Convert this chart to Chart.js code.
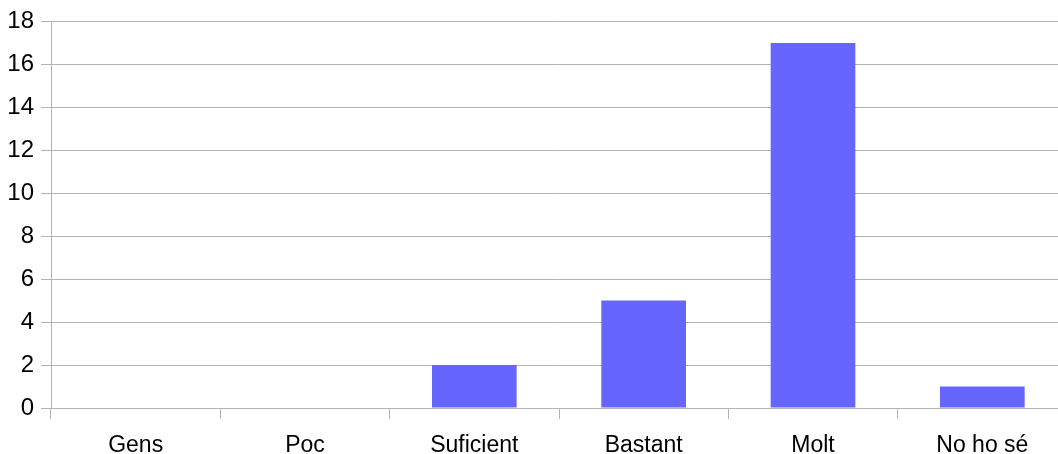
<!DOCTYPE html>
<html>
<head>
<meta charset="utf-8">
<script src="https://cdn.jsdelivr.net/npm/chart.js@4/dist/chart.umd.min.js"></script>
<style>
  html, body { margin: 0; padding: 0; background: #ffffff; overflow: hidden; }
  #wrap { width: 1068px; height: 454px; position: relative; }
</style>
</head>
<body>
<div id="wrap"><canvas id="c"></canvas></div>
<script>
// Survey answers and number of responses per answer
const categories = ['Gens', 'Poc', 'Suficient', 'Bastant', 'Molt', 'No ho sé'];
const responses = [0, 0, 2, 5, 17, 1];
const yMin = 0;
const yMax = 18;
const yStep = 2;

const gridColor = '#b3b3b3';
const barColor = '#6666ff';
const xFont = { family: '"Liberation Sans", Arial, sans-serif', size: 23 };
const yFont = { family: '"Liberation Sans", Arial, sans-serif', size: 24 };

new Chart(document.getElementById('c'), {
  type: 'bar',
  data: {
    labels: categories,
    datasets: [{
      data: responses,
      backgroundColor: barColor,
      borderWidth: 0,
      categoryPercentage: 0.5,
      barPercentage: 1.0
    }]
  },
  options: {
    responsive: true,
    maintainAspectRatio: false,
    animation: false,
    layout: { padding: { top: 20, right: 1, left: 0, bottom: 0 } },
    plugins: {
      legend: { display: false },
      tooltip: { enabled: false }
    },
    scales: {
      x: {
        offset: true,
        grid: {
          offset: true,
          drawOnChartArea: false,
          drawTicks: true,
          tickLength: 11,
          color: gridColor,
          lineWidth: 1
        },
        border: { display: false },
        ticks: { color: '#000000', font: xFont, padding: 13, maxRotation: 0 },
        afterFit(scale) { scale.height = 46; }
      },
      y: {
        min: yMin,
        max: yMax,
        ticks: { stepSize: yStep, color: '#000000', font: yFont, padding: 7 },
        grid: {
          color: gridColor,
          lineWidth: 1,
          drawTicks: true,
          tickLength: 10
        },
        border: { display: true, color: gridColor, width: 1 },
        afterFit(scale) { scale.width = 51; }
      }
    }
  }
});
</script>
</body>
</html>
